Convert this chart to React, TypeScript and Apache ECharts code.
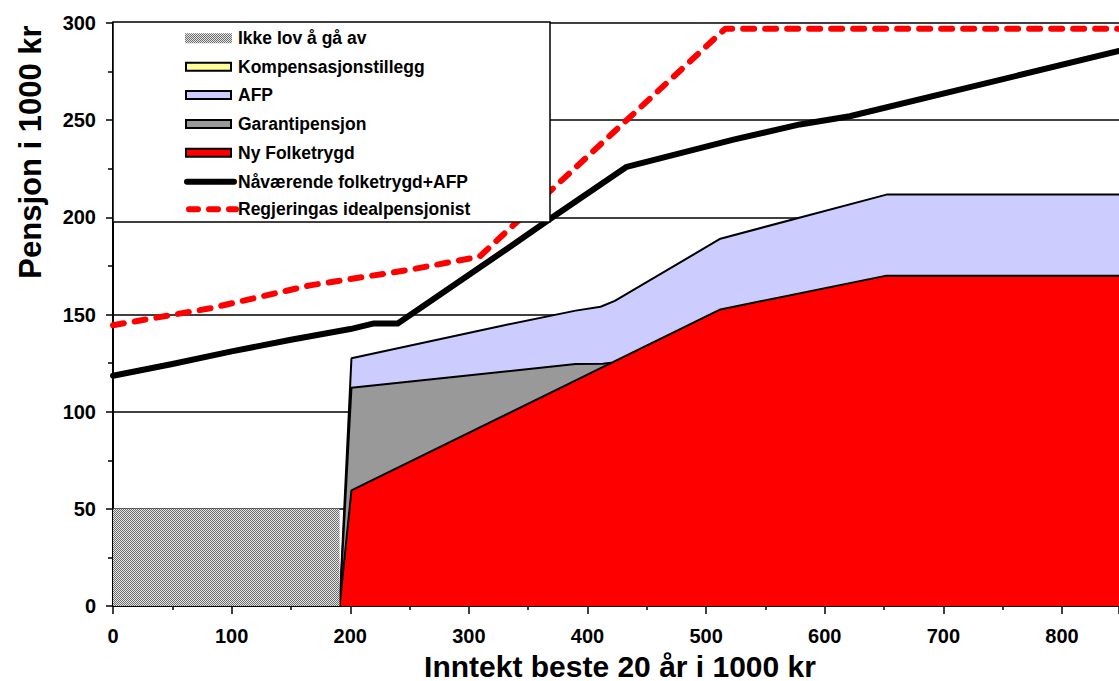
import React, { useEffect, useRef } from "react";
import * as echarts from "echarts";

const legendNames = [
  "Ikke lov å gå av",
  "Kompensasjonstillegg",
  "AFP",
  "Garantipensjon",
  "Ny Folketrygd",
  "Nåværende folketrygd+AFP",
  "Regjeringas idealpensjonist",
];

const xTickLabels = ["0", "100", "200", "300", "400", "500", "600", "700", "800"];
const yTickLabels = ["0", "50", "100", "150", "200", "250", "300"];
const xAxisTitle = "Inntekt beste 20 år i 1000 kr";
const yAxisTitle = "Pensjon i 1000 kr";

// [income, pension] pairs
const ikkeLovData = [[0, 50], [191, 50], [191, 0]];
const afpData = [[191, 0], [201, 127.5], [326, 144], [390, 152], [411, 154], [423, 157], [512, 189], [652, 211.7], [848, 211.7]];
const garantiData = [[191, 0], [201, 112.3], [390, 124.5], [413, 124.7], [420, 125.2]];
const nyFolketrygdData = [[191, 0], [201, 59.5], [512, 152.6], [652, 170], [848, 170]];
const naavaerendeData = [[0, 118.5], [50, 124.5], [100, 131], [150, 137], [200, 142.5], [220, 145.4], [240, 145.4], [335, 185], [368, 199], [433, 226], [523, 240], [579, 247.8], [621, 252], [848, 285.6]];
const regjeringData = [[0, 144.5], [82, 153.2], [166, 165], [250, 173], [309, 179.8], [516, 297], [848, 297]];

const FONT = "'Liberation Sans', Arial, sans-serif";

export default function App() {
  const ref = useRef<HTMLDivElement>(null);
  useEffect(() => {
    document.body.style.margin = "0";
    const canvas = document.createElement("canvas");
    canvas.width = 2;
    canvas.height = 2;
    const ctx = canvas.getContext("2d")!;
    ctx.fillStyle = "#e4e4e4";
    ctx.fillRect(0, 0, 2, 2);
    ctx.fillStyle = "#6e6e6e";
    ctx.fillRect(0, 0, 1, 1);
    ctx.fillRect(1, 1, 1, 1);
    const pattern: any = { image: canvas, repeat: "repeat" };

    const chart = echarts.init(ref.current!, null, { renderer: "svg" });
    const areaSeries = (name: string, data: number[][], color: any, lw: number, z: number) => ({
      name,
      type: "line",
      data,
      symbol: "none",
      z,
      lineStyle: { color: "#000", width: lw },
      areaStyle: { color, opacity: 1, origin: "start" },
      silent: true,
    });

    const rowY = [38.3, 66.7, 95, 124, 152.7, 181.7, 209.3];
    const legendFills = [pattern, "#ffff99", "#ccccff", "#999999", "#ff0000"];
    const legendEls: any[] = [
      {
        type: "rect",
        z: 100,
        shape: { x: 113, y: 22, width: 437, height: 200 },
        style: { fill: "#fff", stroke: "#000", lineWidth: 1.5 },
      },
    ];
    legendNames.forEach((n, i) => {
      const y = rowY[i];
      if (i === 0) {
        legendEls.push({ type: "rect", z: 101, shape: { x: 185, y: y - 5, width: 47, height: 10 }, style: { fill: pattern } });
      } else if (i < 5) {
        legendEls.push({
          type: "rect",
          z: 101,
          shape: { x: 186, y: y - 4, width: 45, height: 8 },
          style: { fill: legendFills[i], stroke: "#000", lineWidth: 2 },
        });
      } else if (i === 5) {
        legendEls.push({
          type: "line",
          z: 101,
          shape: { x1: 187, y1: y, x2: 234, y2: y },
          style: { stroke: "#000", lineWidth: 6, lineCap: "round" },
        });
      } else {
        legendEls.push({
          type: "line",
          z: 101,
          shape: { x1: 189, y1: y, x2: 236, y2: y },
          style: { stroke: "#ff0000", lineWidth: 6, lineCap: "round", lineDash: [9, 11] },
        });
      }
      legendEls.push({
        type: "text",
        z: 101,
        x: 238,
        y,
        style: { text: n, fill: "#000", font: `bold 17.5px ${FONT}`, textVerticalAlign: "middle" },
      });
    });

    chart.setOption({
      animation: false,
      backgroundColor: "#fff",
      grid: { left: 113, right: 0, top: 23, bottom: 75, containLabel: false, outerBoundsMode: "none" },
      xAxis: {
        type: "value",
        min: 0,
        max: 848,
        interval: 100,
        axisLine: { show: true, onZero: false, lineStyle: { color: "#000", width: 2 } },
        axisTick: { show: true, inside: false, length: 8, lineStyle: { color: "#000", width: 1.5 } },
        minorTick: { show: true, splitNumber: 2, length: 4, lineStyle: { color: "#000", width: 1.5 } },
        splitLine: { show: false },
        axisLabel: {
          margin: 20,
          fontFamily: FONT,
          fontWeight: "bold",
          fontSize: 20,
          lineHeight: 20,
          color: "#000",
          showMaxLabel: false,
          formatter: (v: number) => {
            const i = Math.round(v / 100);
            return v % 100 === 0 && xTickLabels[i] !== undefined ? xTickLabels[i] : "";
          },
        },
      },
      yAxis: {
        type: "value",
        min: 0,
        max: 300,
        interval: 50,
        axisLine: { show: true, lineStyle: { color: "#000", width: 2 } },
        axisTick: { show: true, length: 7, lineStyle: { color: "#000", width: 1.5 } },
        minorTick: { show: true, splitNumber: 2, length: 5, lineStyle: { color: "#000", width: 1.5 } },
        splitLine: { show: true, lineStyle: { color: "#000", width: 1.5 } },
        axisLabel: {
          margin: 17,
          fontFamily: FONT,
          fontWeight: "bold",
          fontSize: 20,
          color: "#000",
          formatter: (v: number) => yTickLabels[Math.round(v / 50)] ?? "",
        },
      },
      graphic: [
        {
          type: "text",
          x: 30,
          y: 152,
          rotation: Math.PI / 2,
          style: {
            text: yAxisTitle,
            fill: "#000",
            font: `bold 31px ${FONT}`,
            textAlign: "center",
            textVerticalAlign: "middle",
          },
        },
        {
          type: "text",
          x: 620,
          y: 666,
          style: {
            text: xAxisTitle,
            fill: "#000",
            font: `bold 30px ${FONT}`,
            lineHeight: 30,
            textAlign: "center",
            textVerticalAlign: "middle",
          },
        },
        { type: "group", children: legendEls },
      ],
      series: [
        areaSeries(legendNames[2], afpData, "#ccccff", 2, 3),
        areaSeries(legendNames[3], garantiData, "#999999", 2, 4),
        areaSeries(legendNames[4], nyFolketrygdData, "#ff0000", 2, 5),
        {
          name: legendNames[0],
          type: "line",
          data: ikkeLovData,
          symbol: "none",
          z: 6,
          lineStyle: { width: 0, opacity: 0 },
          areaStyle: { color: pattern, opacity: 1, origin: "start" },
          silent: true,
        },
        {
          name: legendNames[5],
          type: "line",
          data: naavaerendeData,
          symbol: "none",
          z: 7,
          lineStyle: { color: "#000", width: 6, cap: "round", join: "round" },
          silent: true,
        },
        {
          name: legendNames[6],
          type: "line",
          data: regjeringData,
          symbol: "none",
          z: 8,
          lineStyle: { color: "#ff0000", width: 6, type: [11, 11], cap: "round", join: "round" },
          silent: true,
        },
      ],
    });
    return () => chart.dispose();
  }, []);
  return <div ref={ref} style={{ width: 1119, height: 681 }} />;
}
